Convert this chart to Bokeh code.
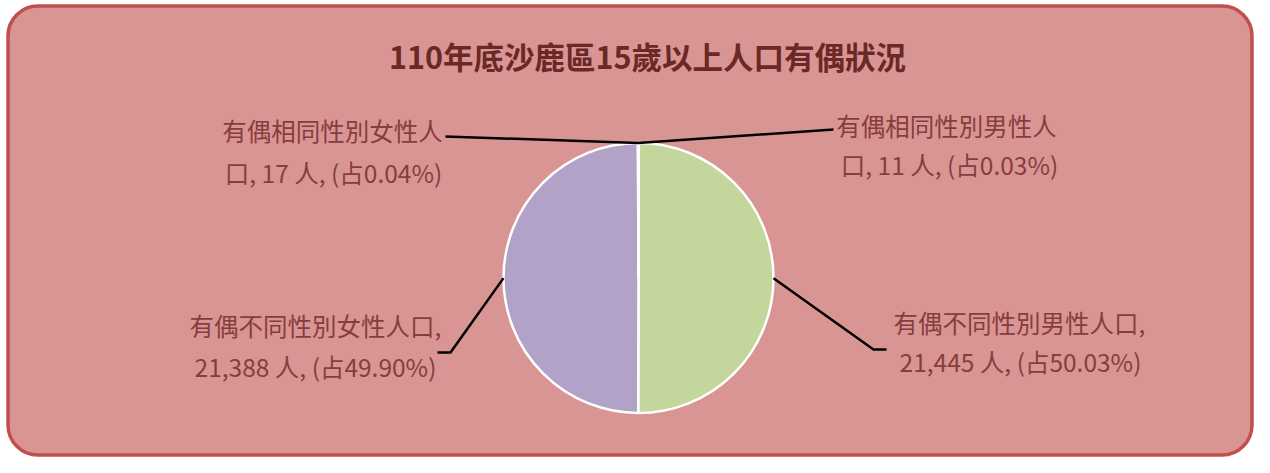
import math
from bokeh.plotting import figure
from bokeh.models import ColumnDataSource, Range1d, BoxAnnotation
from bokeh.core.properties import value
from bokeh.embed import file_html
from bokeh.resources import INLINE

# ---- data ----
title = "110年底沙鹿區15歲以上人口有偶狀況"
categories = ["有偶不同性別男性人口", "有偶不同性別女性人口", "有偶相同性別男性人口", "有偶相同性別女性人口"]
counts = [21445, 21388, 11, 17]
percents = ["50.03", "49.90", "0.03", "0.04"]
colors = ["#C3D69B", "#B2A2C7", "#95B3D7", "#E6B9B8"]

# ---- layout (canvas pixel coords, y from top converted below) ----
W, H = 1254, 457
def Y(py):
    return H - py

p = figure(width=W, height=H, output_backend="svg", toolbar_location=None,
           x_range=Range1d(0, W), y_range=Range1d(0, H),
           min_border=0, min_border_left=0, min_border_right=0, min_border_top=0, min_border_bottom=0)
p.axis.visible = False
p.grid.visible = False
p.outline_line_color = None
p.background_fill_color = "white"
p.border_fill_color = "white"

box = BoxAnnotation(left=7.5, right=1251.5, top=Y(5.5), bottom=Y(454.5),
                    fill_color="#D99594", fill_alpha=1.0,
                    line_color="#C0504D", line_width=3.5, line_alpha=1.0,
                    border_radius=30, level="underlay")
p.add_layout(box)

# ---- pie ----
cx, cy, r = 638, Y(277.5), 135
total = sum(counts)
starts, ends, mids = [], [], []
cum = 0
for c in counts:
    a0 = math.pi / 2 - 2 * math.pi * cum / total
    cum += c
    a1 = math.pi / 2 - 2 * math.pi * cum / total
    starts.append(a0); ends.append(a1); mids.append((a0 + a1) / 2)

src = ColumnDataSource(dict(start=starts, end=ends, color=colors))
p.wedge(x=cx, y=cy, radius=r, start_angle="start", end_angle="end", direction="clock",
        fill_color="color", line_color="white", line_width=2.5, source=src)

# ---- labels & leader lines ----
label_font = value("Noto Sans CJK TC")
label_color = "#873d3c"
leader_pts = [
    [(873, 349), (886, 349)],
    [(450, 352), (437, 352)],
    [(833, 129)],
    [(445, 136)],
]
label_pos = [
    ((1019, 322), (1020, 361)),
    ((315, 325), (315, 366)),
    ((946, 125), (949, 164)),
    ((332, 130), (333, 172)),
]
lines_text = []
for i, name in enumerate(categories):
    txt2 = f"{counts[i]:,} 人, (占{percents[i]}%)"
    if counts[i] > 1000:
        l1, l2 = name + ",", txt2
    else:
        l1, l2 = name[:-1], name[-1] + ", " + txt2
    lines_text.append((l1, l2))

for i in range(len(categories)):
    ax = cx + r * math.cos(mids[i])
    ay = cy + r * math.sin(mids[i])
    xs = [ax] + [pt[0] for pt in leader_pts[i]]
    ys = [ay] + [Y(pt[1]) for pt in leader_pts[i]]
    p.line(xs, ys, line_color="#000000", line_width=2.5)

tx, ty, tt = [], [], []
for i in range(len(categories)):
    for j in range(2):
        tx.append(label_pos[i][j][0])
        ty.append(Y(label_pos[i][j][1]))
        tt.append(lines_text[i][j])
p.text(x=tx, y=ty, text=tt, text_font=label_font, text_font_size="24.5px",
       text_color=label_color, text_align="center", text_baseline="middle")

p.text(x=[647], y=[Y(55)], text=[title], text_font=label_font, text_font_size="30.5px",
       text_font_style="bold", text_color="#6a2826", text_align="center", text_baseline="middle")

open("out.html", "w").write(file_html(p, INLINE))
